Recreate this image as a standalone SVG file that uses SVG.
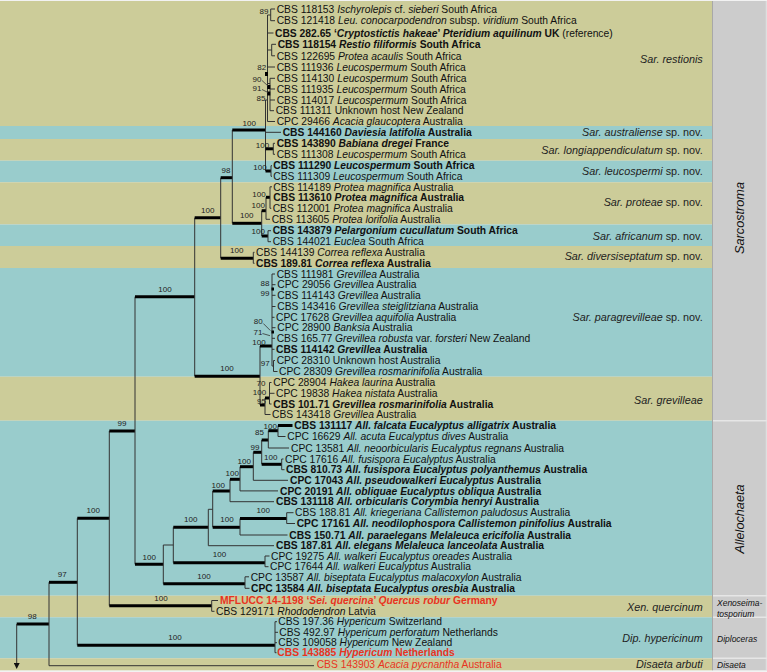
<svg xmlns="http://www.w3.org/2000/svg" width="767" height="672" viewBox="0 0 767 672">
<style>
.t{font-family:"Liberation Sans",Arial,sans-serif;font-size:10.3px;fill:#111}
.b{font-weight:bold}
.i{font-style:italic}
.u{font-style:normal}
.nb{font-weight:normal}
.r{fill:#e8341f}
.n{font-family:"Liberation Sans",Arial,sans-serif;font-size:8px;fill:#222;text-anchor:middle}
.c{font-family:"Liberation Sans",Arial,sans-serif;font-size:10.8px;font-style:italic;text-anchor:end;fill:#222}
.g{font-family:"Liberation Sans",Arial,sans-serif;font-size:8.5px;font-style:italic;fill:#111}
.G{font-family:"Liberation Sans",Arial,sans-serif;font-size:12.7px;font-style:italic;fill:#111;text-anchor:middle}
.tan{fill:#cccc99}
.blu{fill:#99cccc}
.th{stroke:#333;stroke-width:1;fill:none}
.tk{stroke:#000;stroke-width:3;fill:none}
.pt{stroke:#333;stroke-width:0.8;fill:none}
</style>
<defs>
<marker id="ah" markerWidth="6" markerHeight="6" refX="3" refY="3" orient="auto" markerUnits="userSpaceOnUse">
<path d="M0,0 L6,3 L0,6 z" fill="#111"/>
</marker>
</defs>
<rect width="767" height="672" fill="#f2f2f2"/>
<g id="bands">
<rect class="tan" x="0" y="1" width="712.5" height="125"/>
<rect class="blu" x="0" y="126" width="712.5" height="13"/>
<rect class="tan" x="0" y="139" width="712.5" height="21.7"/>
<rect class="blu" x="0" y="160.7" width="712.5" height="21.6"/>
<rect class="tan" x="0" y="182.3" width="712.5" height="42.2"/>
<rect class="blu" x="0" y="224.5" width="712.5" height="21.5"/>
<rect class="tan" x="0" y="246" width="712.5" height="22"/>
<rect class="blu" x="0" y="268" width="712.5" height="108.7"/>
<rect class="tan" x="0" y="376.7" width="712.5" height="44"/>
<rect class="blu" x="0" y="420.7" width="712.5" height="175"/>
<rect class="tan" x="0" y="595.7" width="712.5" height="21.6"/>
<rect class="blu" x="0" y="617.3" width="712.5" height="41"/>
<rect class="tan" x="0" y="658.3" width="712.5" height="12"/>
</g>
<g id="genus-panel">
<rect x="712.5" y="1" width="54.5" height="669.3" fill="#cccccc"/>
<line x1="712.5" y1="1" x2="712.5" y2="670.3" stroke="#a8a8a8" stroke-width="1"/>
<line x1="766.3" y1="1" x2="766.3" y2="670.3" stroke="#e4e4e4" stroke-width="1"/>
<g stroke="#e6e6e6" stroke-width="1.5">
<line x1="713" y1="420.7" x2="767" y2="420.7"/>
<line x1="713" y1="595.7" x2="767" y2="595.7"/>
<line x1="713" y1="617.3" x2="767" y2="617.3"/>
<line x1="713" y1="658.3" x2="767" y2="658.3"/>
</g>
<text class="G" transform="translate(743.5,218) rotate(-90)">Sarcostroma</text>
<text class="G" transform="translate(743.5,519) rotate(-90)">Allelochaeta</text>
<text class="g" x="717" y="606.3">Xenoseima-</text>
<text class="g" x="717" y="616.5">tosporium</text>
<text class="g" x="717" y="642">Diploceras</text>
<text class="g" x="717" y="668">Disaeta</text>
</g>
<g id="connectors">
<path class="tk" d="M16.7,624 H49"/>
<path class="th" d="M16.7,624 V666" marker-end="url(#ah)"/>
<path class="th" d="M49,582.3 V665.7 M49,665.7 H314"/>
<path class="tk" d="M49,582.3 H77.3"/>
<path class="th" d="M77.3,518.3 V645.3"/>
<path class="tk" d="M77.3,645.3 H275"/>
<path class="th" d="M275,621.7 V652.7 M275,621.7 H277 M275,632.3 H278 M275,642.7 H277 M275,652.7 H276.5"/>
<path class="tk" d="M77.3,518.3 H109.3"/>
<path class="th" d="M109.3,431 V605.7"/>
<path class="tk" d="M109.3,605.7 H211.7"/>
<path class="th" d="M211.7,600.5 V611.3 M211.7,600.5 H218 M211.7,611.3 H214.5"/>
<path class="tk" d="M109.3,431 H135"/>
<path class="th" d="M135,296.7 V564.3"/>
<path class="tk" d="M135,564.3 H163.3 M135,296.7 H194.7"/>
<!-- Allelochaeta -->
<path class="th" d="M163.3,545 V583.8 M163.3,545 H173.3"/>
<path class="tk" d="M163.3,583.8 H245"/>
<path class="th" d="M245,576.8 V588.3 M245,576.8 H249 M245,588.3 H249.5"/>
<path class="th" d="M173.3,527.3 V562.7"/>
<path class="tk" d="M173.3,562.7 H265"/>
<path class="th" d="M265,556 V566.7 M265,556 H269.5 M265,566.7 H268.5"/>
<path class="tk" d="M173.3,527.3 H208.3"/>
<path class="th" d="M208.3,509.3 V545.7 M208.3,545.7 H274 M208.3,509.3 H212.7 M212.7,491 V527.3"/>
<path class="tk" d="M212.7,527.3 H240"/>
<path class="th" d="M240,518.5 V535 M240,535 H287.5"/>
<path class="tk" d="M240,518.5 H286.7"/>
<path class="th" d="M286.7,512.7 V523.5 M286.7,512.7 H293.5 M286.7,523.5 H295"/>
<path class="tk" d="M212.7,491 H230"/>
<path class="th" d="M230,479.3 V501.7 M230,501.7 H274"/>
<path class="tk" d="M230,479.3 H240"/>
<path class="th" d="M240,466.7 V490.9 M240,490.9 H278"/>
<path class="tk" d="M240,466.7 H253.3"/>
<path class="th" d="M253.3,452.3 V480.3 M253.3,480.3 H288"/>
<path class="tk" d="M253.3,452.3 H261.7"/>
<path class="th" d="M261.7,440 V464.3"/>
<path class="tk" d="M261.7,464.3 H281.7"/>
<path class="th" d="M281.7,459 V469.7 M281.7,459 H283.5 M281.7,469.7 H284.5"/>
<path class="tk" d="M261.7,440 H268.3"/>
<path class="th" d="M268.3,430.7 V448 M268.3,448 H289"/>
<path class="tk" d="M268.3,430.7 H278"/>
<path class="th" d="M278,425.5 V436.5 M278,436.5 H285.5"/>
<path class="tk" d="M278,425.5 H292.5"/>
<!-- Sarcostroma -->
<path class="th" d="M194.7,217.7 V376.3"/>
<path class="tk" d="M194.7,376.3 H260 M194.7,217.7 H220.7"/>
<path class="th" d="M260,346 V405"/>
<path class="tk" d="M260,346 H272"/>
<path class="th" d="M272,274 V366 M272,274 H275 M272,284.7 H275.5 M272,295.3 H275.5 M272,306.5 H275.5 M272,317.3 H274.5 M272,327.7 H275.5 M272,338.3 H275 M272,349.3 H274.5 M272,366 H273.5 M273.5,360.5 V371.5 M273.5,360.5 H275 M273.5,371.5 H277.5"/>
<path class="tk" d="M271.5,289 H274 M271.5,332 H274" stroke-width="2.5"/>
<path class="pt" d="M263.3,323.5 L270.3,330.5 M262.5,333.5 L270,335.7"/>
<path class="tk" d="M260,405 H265"/>
<path class="th" d="M265,398 V414.5 M265,414.5 H270.5"/>
<path class="tk" d="M265,398 H269.5"/>
<path class="th" d="M269.5,382.5 V404 M269.5,382.5 H271.5 M269.5,393.3 H274.5 M269.5,404 H271.5"/>
<path class="th" d="M220.7,177.7 V258.3"/>
<path class="tk" d="M220.7,258.3 H253.3"/>
<path class="th" d="M253.3,252.3 V263.3 M253.3,252.3 H254.5 M253.3,263.3 H254.5"/>
<path class="tk" d="M220.7,177.7 H232.3"/>
<path class="th" d="M232.3,130 V223.3"/>
<path class="tk" d="M232.3,223.3 H261.7"/>
<path class="th" d="M261.7,210.7 V236"/>
<path class="tk" d="M261.7,236 H268"/>
<path class="th" d="M268,230.7 V241.7 M268,230.7 H271 M268,241.7 H271"/>
<path class="tk" d="M261.7,210.7 H266"/>
<path class="th" d="M266,197.3 V219.3 M266,219.3 H270"/>
<path class="tk" d="M266,197.3 H270"/>
<path class="th" d="M270,186.8 V208.3 M270,186.8 H272 M270,208.3 H271.3"/>
<path class="tk" d="M232.3,130 H265.5"/>
<path class="th" d="M265.5,100 V171 M265.5,132.3 H281"/>
<path class="tk" d="M265.5,148.8 H273.3"/>
<path class="th" d="M273.3,143.3 V154.3 M273.3,143.3 H275 M273.3,154.3 H275"/>
<path class="tk" d="M265.5,171 H271"/>
<path class="th" d="M271,165.7 V176.3 M271,165.7 H272 M271,176.3 H272"/>
<!-- restionis -->
<path class="th" d="M265.5,100 H267.5 M267.5,15 V121.5 M267.5,15 H270.7 M270.7,9 V20.7 M270.7,9 H275 M270.7,20.7 H275 M267.5,33 H273.5 M267.5,50 H271.7 M271.7,44.3 V55.8 M271.7,44.3 H276 M271.7,55.8 H275 M267.5,67 H275 M267.5,83.5 H270 M270,78.3 V110.7 M270,78.3 H275 M270,89 H275 M270,100 H275 M270,110.7 H274 M267.5,121.5 H275"/>
<path class="tk" d="M266.5,72 V76 M268.8,85 V89 M268.8,91.5 V95.5" stroke-width="2"/>
<path class="pt" d="M262,80.5 L268,86 M262,89.5 L268,92.5"/>
</g>
<g id="supports">
<text class="n" x="32.3" y="618.9">98</text>
<text class="n" x="62.3" y="576.9">97</text>
<text class="n" x="93.3" y="512.9">100</text>
<text class="n" x="161" y="601.2">100</text>
<text class="n" x="175" y="640.4">100</text>
<text class="n" x="122" y="425.9">99</text>
<text class="n" x="165" y="291.6">100</text>
<text class="n" x="149.3" y="559.6">100</text>
<text class="n" x="204" y="578.9">100</text>
<text class="n" x="219.5" y="557.4">100</text>
<text class="n" x="190.7" y="522.2">100</text>
<text class="n" x="227" y="521.9">100</text>
<text class="n" x="263.3" y="513.4">100</text>
<text class="n" x="218.3" y="487.9">100</text>
<text class="n" x="232.3" y="476.2">100</text>
<text class="n" x="244.3" y="463.6">100</text>
<text class="n" x="255" y="449.6">99</text>
<text class="n" x="270.7" y="460.2">100</text>
<text class="n" x="259.5" y="434.9">85</text>
<text class="n" x="270.3" y="429.2">100</text>
<text class="n" x="227" y="371.2">100</text>
<text class="n" x="207.7" y="212.9">100</text>
<text class="n" x="259" y="345.2">100</text>
<text class="n" x="265" y="286.2">88</text>
<text class="n" x="265" y="296.2">99</text>
<text class="n" x="258.3" y="323.9">80</text>
<text class="n" x="258" y="334.6">71</text>
<text class="n" x="265.3" y="366.2">97</text>
<text class="n" x="261" y="385.9">70</text>
<text class="n" x="259.5" y="395.4">100</text>
<text class="n" x="261.5" y="403.9">95</text>
<text class="n" x="236.7" y="253.2">100</text>
<text class="n" x="226" y="172.6">98</text>
<text class="n" x="246.7" y="217.9">100</text>
<text class="n" x="258.3" y="233.6">100</text>
<text class="n" x="258.3" y="208.4">100</text>
<text class="n" x="259" y="197.4">100</text>
<text class="n" x="249.3" y="126.2">100</text>
<text class="n" x="262.5" y="148.4">100</text>
<text class="n" x="260" y="169.9">100</text>
<text class="n" x="264" y="13.6">89</text>
<text class="n" x="261.7" y="69.6">82</text>
<text class="n" x="257" y="81.9">90</text>
<text class="n" x="257" y="91.2">91</text>
<text class="n" x="261" y="100.6">85</text>
</g>
<g id="clade-labels">
<text class="c" x="702.7" y="63">Sar. restionis</text>
<text class="c" x="702.7" y="136.2">Sar. australiense<tspan class="u"> sp. nov.</tspan></text>
<text class="c" x="702.7" y="154.2">Sar. longiappendiculatum<tspan class="u"> sp. nov.</tspan></text>
<text class="c" x="702.7" y="174.6">Sar. leucospermi<tspan class="u"> sp. nov.</tspan></text>
<text class="c" x="702.7" y="206.2">Sar. proteae<tspan class="u"> sp. nov.</tspan></text>
<text class="c" x="702.7" y="239.6">Sar. africanum<tspan class="u"> sp. nov.</tspan></text>
<text class="c" x="702.7" y="260.2">Sar. diversiseptatum<tspan class="u"> sp. nov.</tspan></text>
<text class="c" x="702.7" y="320.9">Sar. paragrevilleae<tspan class="u"> sp. nov.</tspan></text>
<text class="c" x="702.7" y="403.9">Sar. grevilleae</text>
<text class="c r" x="702.7" y="610.6">Xen. quercinum</text>
<text class="c r" x="702.7" y="642.2">Dip. hypericinum</text>
<text class="c r" x="702.7" y="668.2">Disaeta arbuti</text>
</g>
<g id="tips">
<g id="t1"><text class="t" x="276.7" y="12.7">CBS 118153 <tspan class="i">Ischyrolepis</tspan> cf. <tspan class="i">sieberi</tspan> South Africa</text></g>
<g id="t2"><text class="t" x="276.7" y="24.4">CBS 121418 <tspan class="i">Leu. conocarpodendron</tspan> subsp. <tspan class="i">viridium</tspan> South Africa</text></g>
<g id="t3"><text class="t b" x="275" y="36.7">CBS 282.65 ‘<tspan class="i">Cryptostictis hakeae</tspan>’ <tspan class="i">Pteridium aquilinum</tspan> UK <tspan class="nb">(reference)</tspan></text></g>
<g id="t4"><text class="t b" x="277.7" y="48">CBS 118154 <tspan class="i">Restio filiformis</tspan> South Africa</text></g>
<g id="t5"><text class="t" x="276.7" y="59.5">CBS 122695 <tspan class="i">Protea acaulis</tspan> South Africa</text></g>
<g id="t6"><text class="t" x="276.7" y="70.7">CBS 111936 <tspan class="i">Leucospermum</tspan> South Africa</text></g>
<g id="t7"><text class="t" x="276.7" y="82">CBS 114130 <tspan class="i">Leucospermum</tspan> South Africa</text></g>
<g id="t8"><text class="t" x="276.7" y="92.7">CBS 111935 <tspan class="i">Leucospermum</tspan> South Africa</text></g>
<g id="t9"><text class="t" x="276.7" y="103.7">CBS 114017 <tspan class="i">Leucospermum</tspan> South Africa</text></g>
<g id="t10"><text class="t" x="275.7" y="114.4">CBS 111311 Unknown host New Zealand</text></g>
<g id="t11"><text class="t" x="276.7" y="125.2">CPC 29466 <tspan class="i">Acacia glaucoptera</tspan> Australia</text></g>
<g id="t12"><text class="t b" x="282.7" y="136">CBS 144160 <tspan class="i">Daviesia latifolia</tspan> Australia</text></g>
<g id="t13"><text class="t b" x="276.7" y="147">CBS 143890 <tspan class="i">Babiana dregei</tspan> France</text></g>
<g id="t14"><text class="t" x="276.7" y="158">CBS 111308 <tspan class="i">Leucospermum</tspan> South Africa</text></g>
<g id="t15"><text class="t b" x="273.3" y="169.4">CBS 111290 <tspan class="i">Leucospermum</tspan> South Africa</text></g>
<g id="t16"><text class="t" x="273.3" y="180">CBS 111309 <tspan class="i">Leucospermum</tspan> South Africa</text></g>
<g id="t17"><text class="t" x="273.3" y="190.5">CBS 114189 <tspan class="i">Protea magnifica</tspan> Australia</text></g>
<g id="t18"><text class="t b" x="273.3" y="201">CBS 113610 <tspan class="i">Protea magnifica</tspan> Australia</text></g>
<g id="t19"><text class="t" x="272.7" y="212">CBS 112001 <tspan class="i">Protea magnifica</tspan> Australia</text></g>
<g id="t20"><text class="t" x="271.7" y="223">CBS 113605 <tspan class="i">Protea lorifolia</tspan> Australia</text></g>
<g id="t21"><text class="t b" x="272.7" y="234.4">CBS 143879 <tspan class="i">Pelargonium cucullatum</tspan> South Africa</text></g>
<g id="t22"><text class="t" x="272.7" y="245.4">CBS 144021 <tspan class="i">Euclea</tspan> South Africa</text></g>
<g id="t23"><text class="t" x="256" y="256">CBS 144139 <tspan class="i">Correa reflexa</tspan> Australia</text></g>
<g id="t24"><text class="t b" x="256" y="267">CBS 189.81 <tspan class="i">Correa reflexa</tspan> Australia</text></g>
<g id="t25"><text class="t" x="276.7" y="277.7">CBS 111981 <tspan class="i">Grevillea</tspan> Australia</text></g>
<g id="t26"><text class="t" x="277.3" y="288.4">CPC 29056 <tspan class="i">Grevillea</tspan> Australia</text></g>
<g id="t27"><text class="t" x="277.3" y="299">CBS 114143 <tspan class="i">Grevillea</tspan> Australia</text></g>
<g id="t28"><text class="t" x="277.3" y="310.2">CBS 143416 <tspan class="i">Grevillea steiglitziana</tspan> Australia</text></g>
<g id="t29"><text class="t" x="276" y="321">CPC 17628 <tspan class="i">Grevillea aquifolia</tspan> Australia</text></g>
<g id="t30"><text class="t" x="277.3" y="331.4">CPC 28900 <tspan class="i">Banksia</tspan> Australia</text></g>
<g id="t31"><text class="t" x="276.7" y="342">CBS 165.77 <tspan class="i">Grevillea robusta</tspan> var. <tspan class="i">forsteri</tspan> New Zealand</text></g>
<g id="t32"><text class="t b" x="276" y="353">CBS 114142 <tspan class="i">Grevillea</tspan> Australia</text></g>
<g id="t33"><text class="t" x="276.7" y="364.2">CPC 28310 Unknown host Australia</text></g>
<g id="t34"><text class="t" x="279" y="375.2">CPC 28309 <tspan class="i">Grevillea rosmarinifolia</tspan> Australia</text></g>
<g id="t35"><text class="t" x="273.3" y="386.2">CPC 28904 <tspan class="i">Hakea laurina</tspan> Australia</text></g>
<g id="t36"><text class="t" x="276" y="397">CPC 19838 <tspan class="i">Hakea nistata</tspan> Australia</text></g>
<g id="t37"><text class="t b" x="273.3" y="407.7">CBS 101.71 <tspan class="i">Grevillea rosmarinifolia</tspan> Australia</text></g>
<g id="t38"><text class="t" x="272" y="418.2">CBS 143418 <tspan class="i">Grevillea</tspan> Australia</text></g>
<g id="t39"><text class="t b" x="294.3" y="429.2">CBS 131117 <tspan class="i">All. falcata Eucalyptus alligatrix</tspan> Australia</text></g>
<g id="t40"><text class="t" x="287.3" y="440.2">CPC 16629 <tspan class="i">All. acuta Eucalyptus dives</tspan> Australia</text></g>
<g id="t41"><text class="t" x="291" y="451.7">CPC 13581 <tspan class="i">All. neoorbicularis Eucalyptus regnans</tspan> Australia</text></g>
<g id="t42"><text class="t" x="285" y="462.7">CPC 17616 <tspan class="i">All. fusispora Eucalyptus</tspan> Australia</text></g>
<g id="t43"><text class="t b" x="286" y="473.4">CBS 810.73 <tspan class="i">All. fusispora Eucalyptus polyanthemus</tspan> Australia</text></g>
<g id="t44"><text class="t b" x="290" y="484">CPC 17043 <tspan class="i">All. pseudowalkeri Eucalyptus</tspan> Australia</text></g>
<g id="t45"><text class="t b" x="280" y="494.6">CPC 20191 <tspan class="i">All. obliquae Eucalyptus obliqua</tspan> Australia</text></g>
<g id="t46"><text class="t b" x="276" y="505.4">CBS 131118 <tspan class="i">All. orbicularis Corymbia henryi</tspan> Australia</text></g>
<g id="t47"><text class="t" x="295" y="516.4">CBS 188.81 <tspan class="i">All. kriegeriana Callistemon paludosus</tspan> Australia</text></g>
<g id="t48"><text class="t b" x="296.7" y="527.2">CPC 17161 <tspan class="i">All. neodilophospora Callistemon pinifolius</tspan> Australia</text></g>
<g id="t49"><text class="t b" x="289.3" y="538.7">CBS 150.71 <tspan class="i">All. paraelegans Melaleuca ericifolia</tspan> Australia</text></g>
<g id="t50"><text class="t b" x="276" y="549.4">CBS 187.81 <tspan class="i">All. elegans Melaleuca lanceolata</tspan> Australia</text></g>
<g id="t51"><text class="t" x="271" y="559.7">CPC 19275 <tspan class="i">All. walkeri Eucalyptus oreades</tspan> Australia</text></g>
<g id="t52"><text class="t" x="270" y="570.4">CPC 17644 <tspan class="i">All. walkeri Eucalyptus</tspan> Australia</text></g>
<g id="t53"><text class="t" x="250.7" y="580.5">CPC 13587 <tspan class="i">All. biseptata Eucalyptus malacoxylon</tspan> Australia</text></g>
<g id="t54"><text class="t b" x="251" y="592">CPC 13584 <tspan class="i">All. biseptata Eucalyptus oresbia</tspan> Australia</text></g>
<g id="t55"><text class="t b r" x="220" y="604.2">MFLUCC 14-1198 ‘<tspan class="i">Sei. quercina</tspan>’ <tspan class="i">Quercus robur</tspan> Germany</text></g>
<g id="t56"><text class="t" x="216" y="615">CBS 129171 <tspan class="i">Rhododendron</tspan> Latvia</text></g>
<g id="t57"><text class="t" x="278.3" y="625.4">CBS 197.36 <tspan class="i">Hypericum</tspan> Switzerland</text></g>
<g id="t58"><text class="t" x="279.3" y="636">CBS 492.97 <tspan class="i">Hypericum perforatum</tspan> Netherlands</text></g>
<g id="t59"><text class="t" x="278.3" y="646.4">CBS 109058 <tspan class="i">Hypericum</tspan> New Zealand</text></g>
<g id="t60"><text class="t b r" x="277.3" y="656.4">CBS 143885 <tspan class="i">Hypericum</tspan> Netherlands</text></g>
<g id="t61"><text class="t r" x="316.7" y="667.7">CBS 143903 <tspan class="i">Acacia pycnantha</tspan> Australia</text></g>
</g>
</svg>
